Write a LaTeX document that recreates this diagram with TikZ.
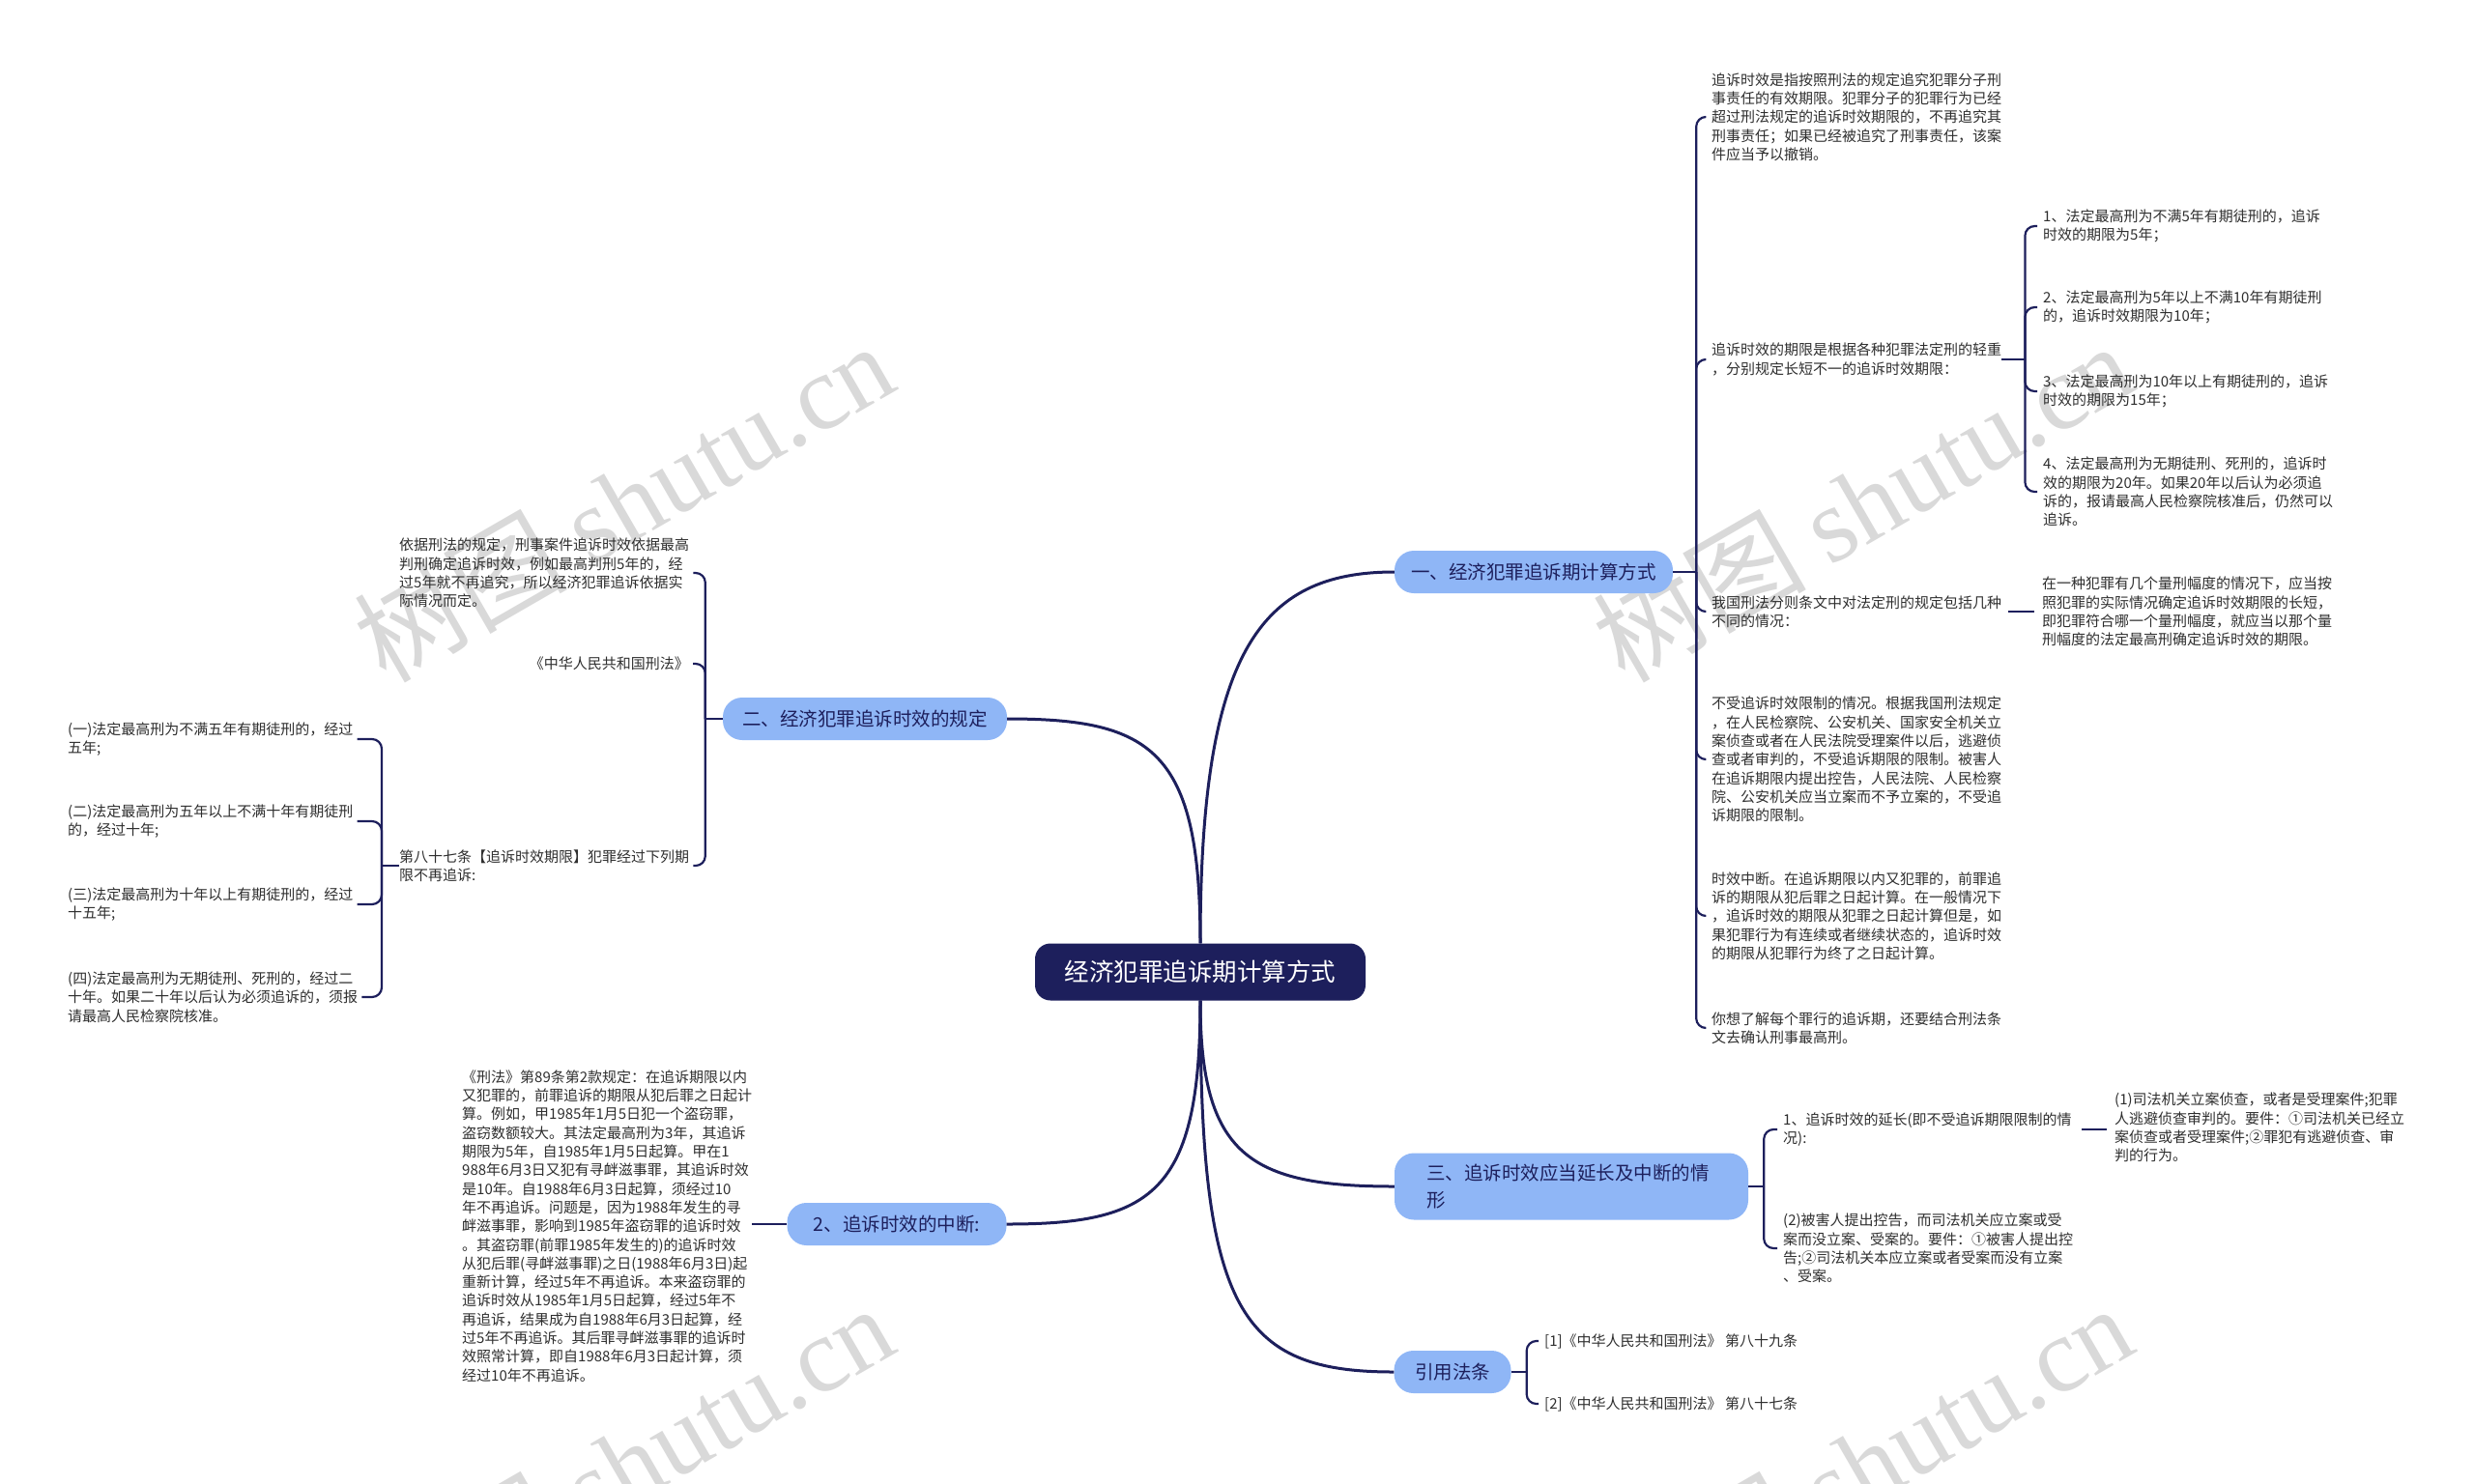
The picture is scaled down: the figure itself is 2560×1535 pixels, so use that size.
\documentclass[tikz,border=0pt]{standalone}
\usepackage{fontspec}
\setmainfont{Noto Sans CJK SC}
\newfontfamily\wmfont{Liberation Serif}
\definecolor{mapnavy}{HTML}{1D1F5C}
\definecolor{skyblue}{HTML}{8FB6F6}
\definecolor{leafgray}{HTML}{2E2E2E}
\definecolor{markgray}{HTML}{D9D9D9}
\tikzset{
  root/.style={fill=mapnavy, text=white, rounded corners=16pt, minimum height=59pt, minimum width=342pt, font=\fontsize{25.5}{30}\selectfont},
  branch/.style={fill=skyblue, text=mapnavy, rounded corners=20pt, minimum height=44pt, inner xsep=0pt, font=\fontsize{19.5}{27.5}\selectfont},
  leaf/.style={inner sep=0pt, align=left, text=leafgray, font=\fontsize{15}{19.3}\selectfont},
  trunk/.style={draw=mapnavy, line width=3pt},
  twig/.style={draw=mapnavy, line width=2.2pt, rounded corners=10pt},
  wmark/.style={rotate=30, text=markgray, font=\fontsize{110}{110}\selectfont}
}
\begin{document}
\begin{tikzpicture}[x=1pt, y=-1pt]
  \useasboundingbox (0,0) rectangle (2560,1535);
  % 水印
  \begin{scope}
    \clip (0,0) rectangle (2560,1535);
    \foreach \wx/\wy in {645/519, 1927/519, 645/1515, 1927/1515}
      \node[wmark] at (\wx,\wy) {树图 {\wmfont shutu.cn}};
  \end{scope}
  % 中心主题
  \node[root] (root) at (1242,1006) {经济犯罪追诉期计算方式};
  % 分支
  \node[branch, minimum width=288pt] (b1) at (1587,592) {一、经济犯罪追诉期计算方式};
  \node[branch, minimum width=294pt] (b2) at (895,744) {二、经济犯罪追诉时效的规定};
  \node[branch, minimum height=69pt, text width=300pt, inner xsep=33pt, align=left] (b3) at (1626,1228) {三、追诉时效应当延长及中断的情\\形};
  \node[branch, minimum width=227pt] (b4) at (928,1267) {2、追诉时效的中断:};
  \node[branch, minimum width=121pt] (b5) at (1503,1420) {引用法条};
  \draw[trunk] (root.north) .. controls +(0,-300) and +(-140,0) .. (b1.west);
  \draw[trunk] (b2.east) .. controls +(150,0) and +(0,-200) .. (root.north);
  \draw[trunk] (b4.east) .. controls +(150,0) and +(0,200) .. (root.south);
  \draw[trunk] (root.south) .. controls +(0,160) and +(-150,0) .. (b3.west);
  \draw[trunk] (root.south) .. controls +(0,320) and +(-160,0) .. (b5.west);
  % 一、右上
  \node[leaf, anchor=west] (c1) at (1771,121) {追诉时效是指按照刑法的规定追究犯罪分子刑\\事责任的有效期限。犯罪分子的犯罪行为已经\\超过刑法规定的追诉时效期限的，不再追究其\\刑事责任；如果已经被追究了刑事责任，该案\\件应当予以撤销。};
  \node[leaf, anchor=west] (c2) at (1771,372) {追诉时效的期限是根据各种犯罪法定刑的轻重\\，分别规定长短不一的追诉时效期限：};
  \node[leaf, anchor=west] (c3) at (1771,633) {我国刑法分则条文中对法定刑的规定包括几种\\不同的情况：};
  \node[leaf, anchor=west] (c4) at (1771,786) {不受追诉时效限制的情况。根据我国刑法规定\\，在人民检察院、公安机关、国家安全机关立\\案侦查或者在人民法院受理案件以后，逃避侦\\查或者审判的，不受追诉期限的限制。被害人\\在追诉期限内提出控告，人民法院、人民检察\\院、公安机关应当立案而不予立案的，不受追\\诉期限的限制。};
  \node[leaf, anchor=west] (c5) at (1771,948) {时效中断。在追诉期限以内又犯罪的，前罪追\\诉的期限从犯后罪之日起计算。在一般情况下\\，追诉时效的期限从犯罪之日起计算但是，如\\果犯罪行为有连续或者继续状态的，追诉时效\\的期限从犯罪行为终了之日起计算。};
  \node[leaf, anchor=west] (c6) at (1771,1064) {你想了解每个罪行的追诉期，还要结合刑法条\\文去确认刑事最高刑。};
  \draw[twig] (b1.east) -- ++(24,0) coordinate (j1);
  \foreach \n in {c1,c2,c3,c4,c5,c6}
    \draw[twig] (j1) |- ([xshift=-6pt]\n.west);
  \node[leaf, anchor=west] (l1) at (2114,234) {1、法定最高刑为不满5年有期徒刑的，追诉\\时效的期限为5年；};
  \node[leaf, anchor=west] (l2) at (2114,318) {2、法定最高刑为5年以上不满10年有期徒刑\\的，追诉时效期限为10年；};
  \node[leaf, anchor=west] (l3) at (2114,405) {3、法定最高刑为10年以上有期徒刑的，追诉\\时效的期限为15年；};
  \node[leaf, anchor=west] (l4) at (2114,509) {4、法定最高刑为无期徒刑、死刑的，追诉时\\效的期限为20年。如果20年以后认为必须追\\诉的，报请最高人民检察院核准后，仍然可以\\追诉。};
  \draw[twig] (c2.east) -- ++(24,0) coordinate (j4);
  \foreach \n in {l1,l2,l3,l4}
    \draw[twig] (j4) |- ([xshift=-6pt]\n.west);
  \node[leaf, anchor=west] (g1) at (2113,633) {在一种犯罪有几个量刑幅度的情况下，应当按\\照犯罪的实际情况确定追诉时效期限的长短，\\即犯罪符合哪一个量刑幅度，就应当以那个量\\刑幅度的法定最高刑确定追诉时效的期限。};
  \draw[twig, shorten <=7pt, shorten >=8pt] (c3.east) -- (g1.west);
  % 二、左上
  \node[leaf, anchor=west] (e1) at (413,593) {依据刑法的规定，刑事案件追诉时效依据最高\\判刑确定追诉时效，例如最高判刑5年的，经\\过5年就不再追究，所以经济犯罪追诉依据实\\际情况而定。};
  \node[leaf, anchor=east] (e2) at (713,687) {《中华人民共和国刑法》};
  \node[leaf, anchor=west] (e3) at (413,896) {第八十七条【追诉时效期限】犯罪经过下列期\\限不再追诉:};
  \draw[twig] (b2.west) -- ++(-18,0) coordinate (j2);
  \foreach \n in {e1,e2,e3}
    \draw[twig] (j2) |- ([xshift=4pt]\n.east);
  \node[leaf, anchor=west] (f1) at (70,765) {(一)法定最高刑为不满五年有期徒刑的，经过\\五年;};
  \node[leaf, anchor=west] (f2) at (70,850) {(二)法定最高刑为五年以上不满十年有期徒刑\\的，经过十年;};
  \node[leaf, anchor=west] (f3) at (70,936) {(三)法定最高刑为十年以上有期徒刑的，经过\\十五年;};
  \node[leaf, anchor=west] (f4) at (70,1032) {(四)法定最高刑为无期徒刑、死刑的，经过二\\十年。如果二十年以后认为必须追诉的，须报\\请最高人民检察院核准。};
  \draw[twig] (e3.west) -- ++(-18,0) coordinate (j3);
  \foreach \n in {f1,f2,f3,f4}
    \draw[twig] (j3) |- ([xshift=4pt]\n.east);
  % 2、追诉时效的中断
  \node[leaf, anchor=west] (k1) at (478,1269) {《刑法》第89条第2款规定：在追诉期限以内\\又犯罪的，前罪追诉的期限从犯后罪之日起计\\算。例如，甲1985年1月5日犯一个盗窃罪，\\盗窃数额较大。其法定最高刑为3年，其追诉\\期限为5年，自1985年1月5日起算。甲在1\\988年6月3日又犯有寻衅滋事罪，其追诉时效\\是10年。自1988年6月3日起算，须经过10\\年不再追诉。问题是，因为1988年发生的寻\\衅滋事罪，影响到1985年盗窃罪的追诉时效\\。其盗窃罪(前罪1985年发生的)的追诉时效\\从犯后罪(寻衅滋事罪)之日(1988年6月3日)起\\重新计算，经过5年不再追诉。本来盗窃罪的\\追诉时效从1985年1月5日起算，经过5年不\\再追诉，结果成为自1988年6月3日起算，经\\过5年不再追诉。其后罪寻衅滋事罪的追诉时\\效照常计算，即自1988年6月3日起计算，须\\经过10年不再追诉。};
  \draw[twig] (b4.west) -- (b4.west -| k1.east);
  % 三、右下
  \node[leaf, anchor=west] (d1) at (1845,1169) {1、追诉时效的延长(即不受追诉期限限制的情\\况):};
  \node[leaf, anchor=west] (d2) at (1845,1292) {(2)被害人提出控告，而司法机关应立案或受\\案而没立案、受案的。要件：①被害人提出控\\告;②司法机关本应立案或者受案而没有立案\\、受案。};
  \draw[twig] (b3.east) -- ++(16,0) coordinate (j5);
  \foreach \n in {d1,d2}
    \draw[twig] (j5) |- ([xshift=-6pt]\n.west);
  \node[leaf, anchor=west] (h1) at (2188,1167) {(1)司法机关立案侦查，或者是受理案件;犯罪\\人逃避侦查审判的。要件：①司法机关已经立\\案侦查或者受理案件;②罪犯有逃避侦查、审\\判的行为。};
  \draw[twig, shorten <=10pt, shorten >=8pt] (d1.east) -- (d1.east -| h1.west);
  % 引用法条
  \node[leaf, anchor=west] (r1) at (1598,1388) {[1]《中华人民共和国刑法》 第八十九条};
  \node[leaf, anchor=west] (r2) at (1598,1453) {[2]《中华人民共和国刑法》 第八十七条};
  \draw[twig] (b5.east) -- ++(16,0) coordinate (j6);
  \foreach \n in {r1,r2}
    \draw[twig] (j6) |- ([xshift=-6pt]\n.west);
\end{tikzpicture}
\end{document}
